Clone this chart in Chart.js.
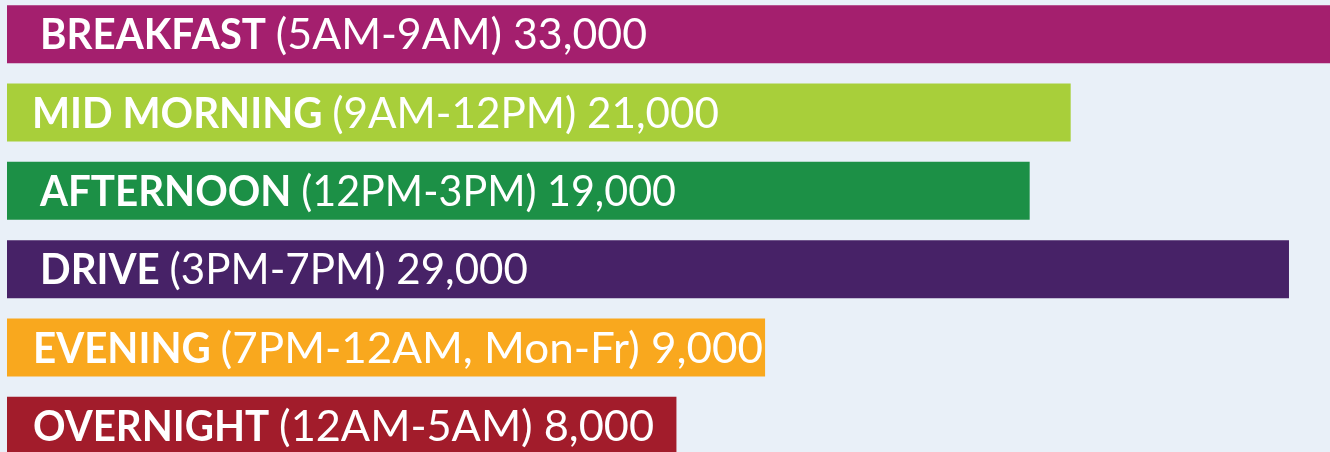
<!DOCTYPE html>
<html>
<head>
<meta charset="utf-8">
<script src="https://cdn.jsdelivr.net/npm/chart.js@4"></script>
<style>
  html, body { margin: 0; padding: 0; background: #e9f0f8; overflow: hidden; }
  #wrap { position: absolute; left: 0; top: -5px; width: 1330px; height: 470px; }
</style>
</head>
<body>
<div id="wrap"><canvas id="dayparts"></canvas></div>
<script>
// dayparts, top to bottom
const dayparts = ['BREAKFAST', 'MID MORNING', 'AFTERNOON', 'DRIVE', 'EVENING', 'OVERNIGHT'];
const timeRanges = ['(5AM-9AM)', '(9AM-12PM)', '(12PM-3PM)', '(3PM-7PM)', '(7PM-12AM, Mon-Fr)', '(12AM-5AM)'];
const listeners = [33000, 21000, 19000, 29000, 9000, 8000];
// bar length as drawn, in % of the breakfast bar
const barLength = [100, 80.4, 77.3, 96.9, 57.3, 50.6];
const barColors = ['#a41f6e', '#a8cf3a', '#1c9046', '#472267', '#f9a81e', '#a21c2b'];

// where each label starts and ends (px from the left of the page)
const labelX = [40, 32, 40, 40, 33, 33];
const labelEnd = [647, 719, 676, 528, 763, 654];

const fontFamily = 'Lato, "Open Sans", sans-serif';
const fontSize = 42;
const boldSqueeze = 0.96; // bold part a bit narrower, like the original

// writes "NAME (range) value" inside each bar
const barLabels = {
    id: 'barLabels',
    afterDatasetsDraw(chart) {
        const ctx = chart.ctx;
        const meta = chart.getDatasetMeta(0);
        const bold = 'bold ' + fontSize + 'px ' + fontFamily;
        const normal = fontSize + 'px ' + fontFamily;
        ctx.fillStyle = '#ffffff';
        ctx.textBaseline = 'alphabetic';
        meta.data.forEach((bar, i) => {
            const name = dayparts[i] + ' ';
            const rest = timeRanges[i] + ' ' + listeners[i].toLocaleString('en-US');
            ctx.font = bold;
            const w1 = ctx.measureText(name).width * boldSqueeze;
            ctx.font = normal;
            const w2 = ctx.measureText(rest).width;
            const sx = (labelEnd[i] - labelX[i] - w1) / w2;
            const y = bar.y + 15;

            ctx.save();
            ctx.translate(labelX[i], y);
            ctx.scale(boldSqueeze, 1);
            ctx.font = bold;
            ctx.fillText(name, 0, 0);
            ctx.restore();

            ctx.save();
            ctx.translate(labelX[i] + w1, y);
            ctx.scale(sx, 1);
            ctx.font = normal;
            ctx.fillText(rest, 0, 0);
            ctx.restore();
        });
    }
};

const ctx = document.getElementById('dayparts').getContext('2d');
new Chart(ctx, {
    type: 'bar',
    data: {
        labels: dayparts,
        datasets: [{
            data: barLength,
            backgroundColor: barColors,
            borderWidth: 0,
            barPercentage: 0.74,
            categoryPercentage: 1
        }]
    },
    options: {
        indexAxis: 'y',
        responsive: true,
        maintainAspectRatio: false,
        animation: false,
        layout: { padding: { left: 7, right: 0, top: 0, bottom: 0 } },
        plugins: {
            legend: { display: false },
            tooltip: { enabled: false }
        },
        scales: {
            x: { display: false, min: 0, max: 100 },
            y: { display: false }
        }
    },
    plugins: [barLabels]
});
</script>
</body>
</html>
